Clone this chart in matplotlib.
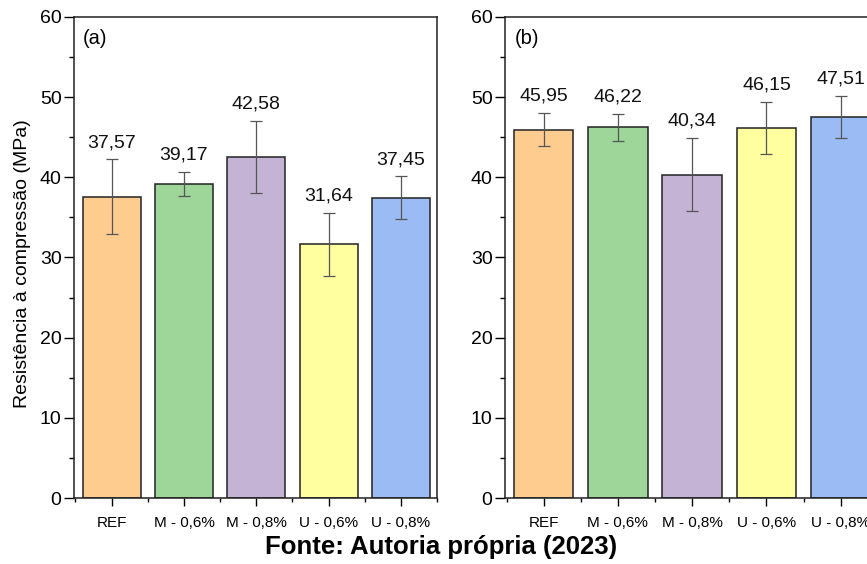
import matplotlib
matplotlib.use("Agg")
import matplotlib.pyplot as plt
from matplotlib.ticker import MultipleLocator, FixedLocator
import numpy as np

plt.rcParams['font.family'] = ['Liberation Sans', 'DejaVu Sans']

categories = ["REF", "M - 0,6%", "M - 0,8%", "U - 0,6%", "U - 0,8%"]
values_a = [37.57, 39.17, 42.58, 31.64, 37.45]
errors_a = [4.7, 1.5, 4.5, 3.95, 2.7]
values_b = [45.95, 46.22, 40.34, 46.15, 47.51]
errors_b = [2.1, 1.7, 4.6, 3.3, 2.65]
colors = ["#FFCC90", "#9ED69A", "#C5B3D6", "#FFFFA0", "#9BBBF5"]
panel_labels = ["(a)", "(b)"]
ylabel = "Resistência à compressão (MPa)"
caption = "Fonte: Autoria própria (2023)"

fig = plt.figure(figsize=(8.67, 5.64), dpi=100)
ax_a = fig.add_axes([0.0854, 0.117, 0.4187, 0.853])
ax_b = fig.add_axes([0.5825, 0.117, 0.430, 0.853])

def fmt(v):
    return f"{v:.2f}".replace(".", ",")

for ax, vals, errs, lab in [(ax_a, values_a, errors_a, panel_labels[0]),
                            (ax_b, values_b, errors_b, panel_labels[1])]:
    x = np.arange(len(categories))
    ax.bar(x, vals, width=0.8, color=colors, edgecolor="#222222", linewidth=1.1, zorder=2)
    ax.errorbar(x, vals, yerr=errs, fmt="none", ecolor="#555555", elinewidth=0.9,
                capsize=4, capthick=0.9, zorder=3)
    for xi, v, e in zip(x, vals, errs):
        ax.text(xi, v + e + 1.0, fmt(v), ha="center", va="bottom", fontsize=14, color="#111111")
    ax.set_xlim(-0.52, 4.5)
    ax.set_ylim(0, 60)
    ax.yaxis.set_major_locator(MultipleLocator(10))
    ax.yaxis.set_minor_locator(MultipleLocator(5))
    ax.set_xticks(x)
    ax.set_xticklabels(categories, fontsize=11)
    ax.xaxis.set_minor_locator(FixedLocator(np.arange(-0.5, 5.0, 1.0)))
    ax.tick_params(axis="y", which="major", direction="out", length=7, width=1, labelsize=14, pad=2, right=False)
    ax.tick_params(axis="y", which="minor", direction="out", length=3.5, width=1, right=False)
    ax.tick_params(axis="x", which="major", direction="out", length=6, width=1, pad=7, top=False)
    ax.tick_params(axis="x", which="minor", direction="out", length=3, width=1, top=False)
    for s in ax.spines.values():
        s.set_linewidth(1.1)
        s.set_color("#222222")
    ax.text(0.025, 0.975, lab, transform=ax.transAxes, ha="left", va="top", fontsize=14.5)

fig.text(23 / 867, 1 - 264 / 564, ylabel, rotation=90, ha="center", va="center", fontsize=14)

fig.text(0.509, 0.030, caption, ha="center", va="center", fontsize=18.5, fontweight="bold")

fig.savefig("out.png", dpi=100)
